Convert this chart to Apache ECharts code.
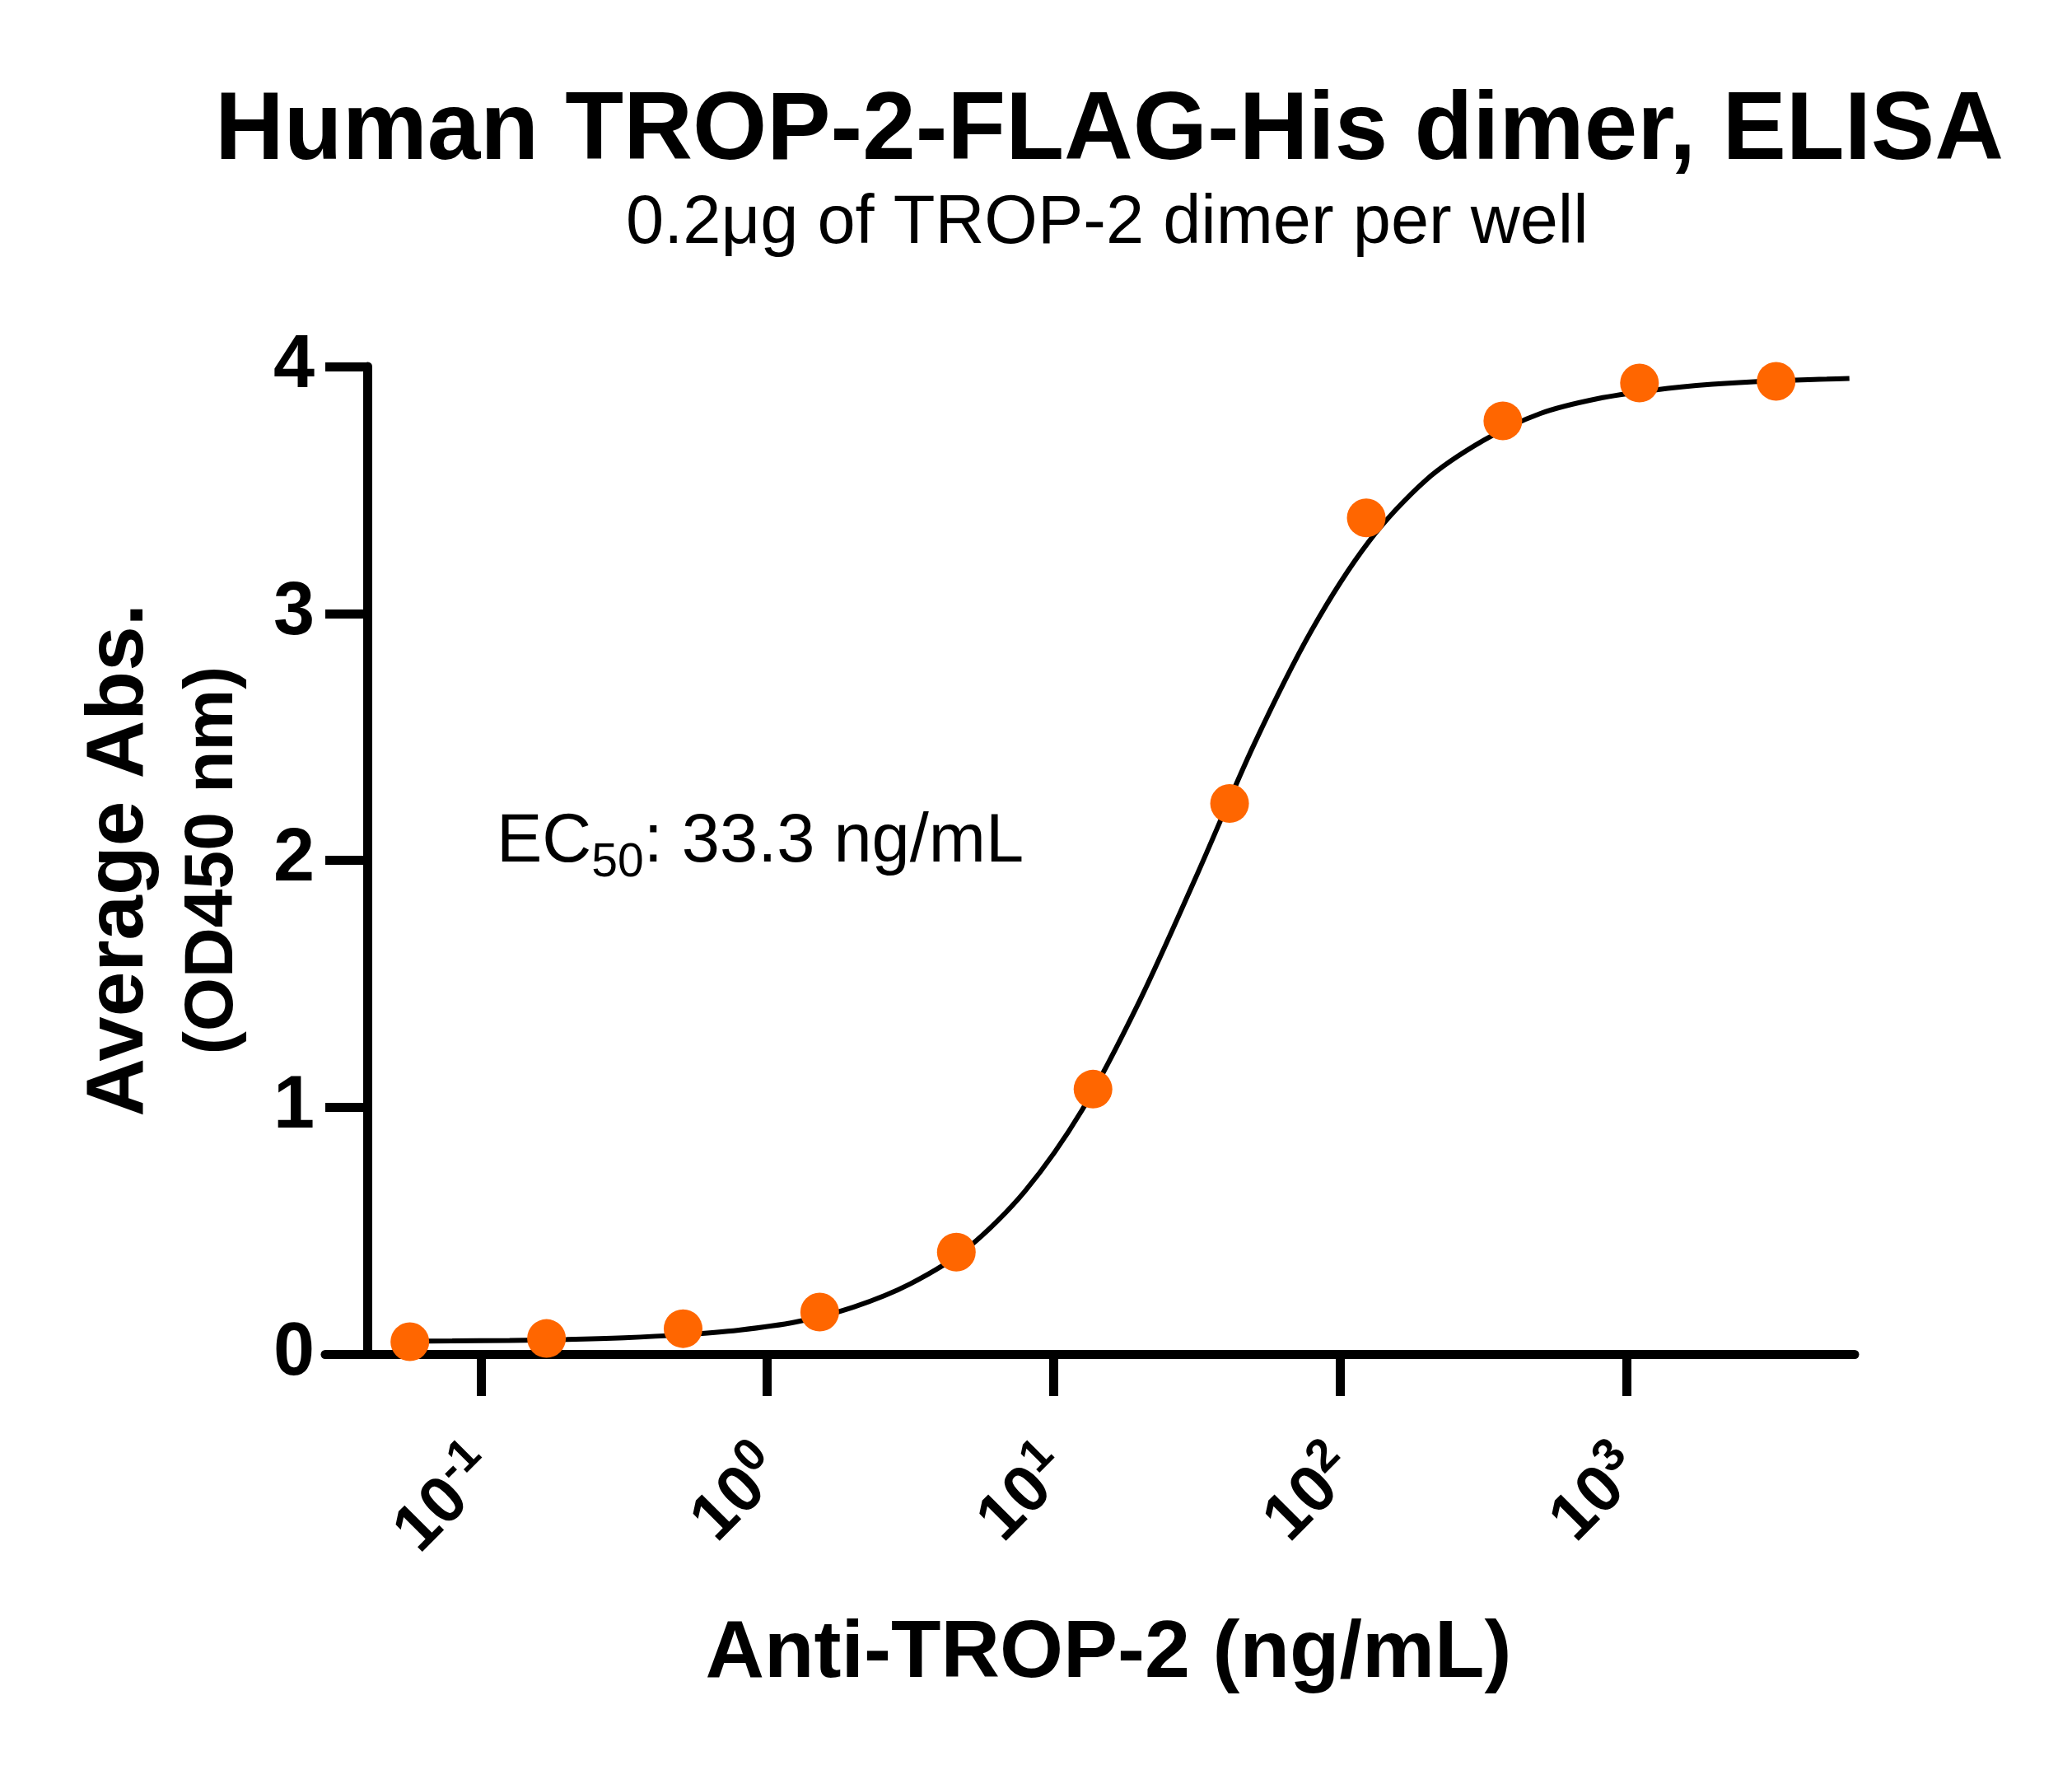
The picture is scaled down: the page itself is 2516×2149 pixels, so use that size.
<!DOCTYPE html>
<html>
  <head>
    <meta charset="utf-8">
    <title>TROP-2 ELISA</title>
    <script src="https://cdn.jsdelivr.net/npm/echarts@6/dist/echarts.min.js"></script>
  </head>
  <style>
    html,body {
      width: 100%;
      height: 100%;
      margin: 0;
      padding: 0;
      background: #fff;
    }
    #chart {
      width: 2516px;
      height: 2149px;
    }
  </style>
  <body>
    <div id="chart"></div>
  </body>
  <script>
    // measured points (ng/mL, OD450)
    var conc = [3333.3, 1111.1, 370.4, 123.5, 41.15, 13.72, 4.572, 1.524, 0.508, 0.1694, 0.05645];
    var absorb = [3.94, 3.933, 3.78, 3.387, 2.23, 1.073, 0.413, 0.17, 0.103, 0.063, 0.05];

    // fitted curve
    var fitX = [0.0501, 0.0794, 0.1259, 0.1995, 0.3162, 0.5012, 0.7943, 1.259, 1.995, 3.162,
      5.012, 7.943, 12.59, 19.95, 31.62, 50.12, 79.43, 125.9, 199.5, 316.2,
      501.2, 794.3, 1259, 1995, 3162, 5012, 6010];
    var fitY = [0.052, 0.053, 0.055, 0.059, 0.066, 0.078, 0.097, 0.13, 0.19, 0.285,
      0.43, 0.66, 0.99, 1.43, 1.94, 2.47, 2.93, 3.29, 3.54, 3.70,
      3.81, 3.87, 3.905, 3.928, 3.942, 3.949, 3.952];

    var xTicks = [0.1, 1, 10, 100, 1000];
    var yTicks = [0, 1, 2, 3, 4];

    var font = 'Liberation Sans, Arial, sans-serif';

    function pairs(xs, ys) {
      return xs.map(function(x, i) { return [x, ys[i]]; });
    }

    // EC50 note: three pieces so the "50" can sit below the baseline
    var ctx = document.createElement('canvas').getContext('2d');
    function textWidth(str, size) {
      ctx.font = size + 'px ' + font;
      return ctx.measureText(str).width;
    }
    var noteX = 603;
    var noteMain = 1023;   // middle of the main text
    var noteSub = 1048;    // middle of the subscript
    var w1 = textWidth('EC', 83);
    var w2 = textWidth('50', 57);

    var option = {
      animation: false,
      backgroundColor: '#fff',
      title: [{
        text: 'Human TROP-2-FLAG-His dimer, ELISA',
        left: 256,
        top: 98,
        textStyle: { fontFamily: font, fontSize: 116, fontWeight: 'bold', color: '#000' }
      }, {
        text: '0.2\u03bcg of TROP-2 dimer per well',
        left: 755,
        top: 226,
        textStyle: { fontFamily: font, fontSize: 83, fontWeight: 'normal', color: '#000' }
      }],
      grid: {
        left: 395,
        right: 264,
        top: 445,
        bottom: 505,
        outerBoundsMode: 'none'
      },
      xAxis: {
        type: 'log',
        logBase: 10,
        min: 0.0286,
        max: 6266,
        name: 'Anti-TROP-2 (ng/mL)',
        nameLocation: 'middle',
        nameGap: 315,
        nameTextStyle: {
          fontFamily: font, fontSize: 99, fontWeight: 'bold', color: '#000',
          padding: [0, 0, 0, 45]
        },
        axisLine: { show: true, onZero: false, lineStyle: { color: '#000', width: 11 } },
        axisTick: { show: true, length: 51, customValues: xTicks, lineStyle: { color: '#000', width: 11 } },
        minorTick: { show: false },
        splitLine: { show: false },
        axisLabel: {
          customValues: xTicks,
          rotate: 45,
          margin: 122,
          formatter: function(v) {
            return '{b|10}{s|' + Math.round(Math.log10(v)) + '}';
          },
          rich: {
            b: { fontFamily: font, fontSize: 80, fontWeight: 'bold', color: '#000', lineHeight: 80, padding: [22, 0, 0, 0] },
            s: { fontFamily: font, fontSize: 56, fontWeight: 'bold', color: '#000', lineHeight: 56, verticalAlign: 'top' }
          }
        }
      },
      yAxis: {
        type: 'value',
        min: 0,
        max: 4,
        interval: 1,
        offset: -51,
        name: '{a|Average Abs.}\n{b|(OD450 nm)}',
        nameLocation: 'middle',
        nameRotate: 90,
        nameGap: 133,
        nameTextStyle: {
          rich: {
            a: { fontFamily: font, fontSize: 98, fontWeight: 'bold', color: '#000', lineHeight: 118 },
            b: { fontFamily: font, fontSize: 84, fontWeight: 'bold', color: '#000', lineHeight: 108 }
          }
        },
        axisLine: { show: true, lineStyle: { color: '#000', width: 11 } },
        axisTick: { show: true, length: 51, lineStyle: { color: '#000', width: 11 } },
        splitLine: { show: false },
        axisLabel: {
          margin: 64,
          fontFamily: font,
          fontSize: 90,
          fontWeight: 'bold',
          color: '#000',
          customValues: yTicks
        }
      },
      graphic: [{
        type: 'text',
        style: {
          text: 'EC', x: noteX, y: noteMain, align: 'left', verticalAlign: 'middle',
          fontFamily: font, fontSize: 83, fill: '#000'
        }
      }, {
        type: 'text',
        style: {
          text: '50', x: noteX + w1, y: noteSub, align: 'left', verticalAlign: 'middle',
          fontFamily: font, fontSize: 57, fill: '#000'
        }
      }, {
        type: 'text',
        style: {
          text: ': 33.3 ng/mL', x: noteX + w1 + w2, y: noteMain, align: 'left', verticalAlign: 'middle',
          fontFamily: font, fontSize: 83, fill: '#000'
        }
      }],
      series: [{
        type: 'line',
        data: pairs(fitX, fitY),
        smooth: 0.3,
        showSymbol: false,
        symbol: 'none',
        lineStyle: { color: '#000', width: 6 },
        z: 2
      }, {
        type: 'scatter',
        data: pairs(conc, absorb),
        symbol: 'circle',
        symbolSize: 47,
        itemStyle: { color: '#ff6600', opacity: 1 },
        z: 3
      }]
    };

    var chart = echarts.init(document.getElementById('chart'));
    chart.setOption(option);
  </script>
</html>
